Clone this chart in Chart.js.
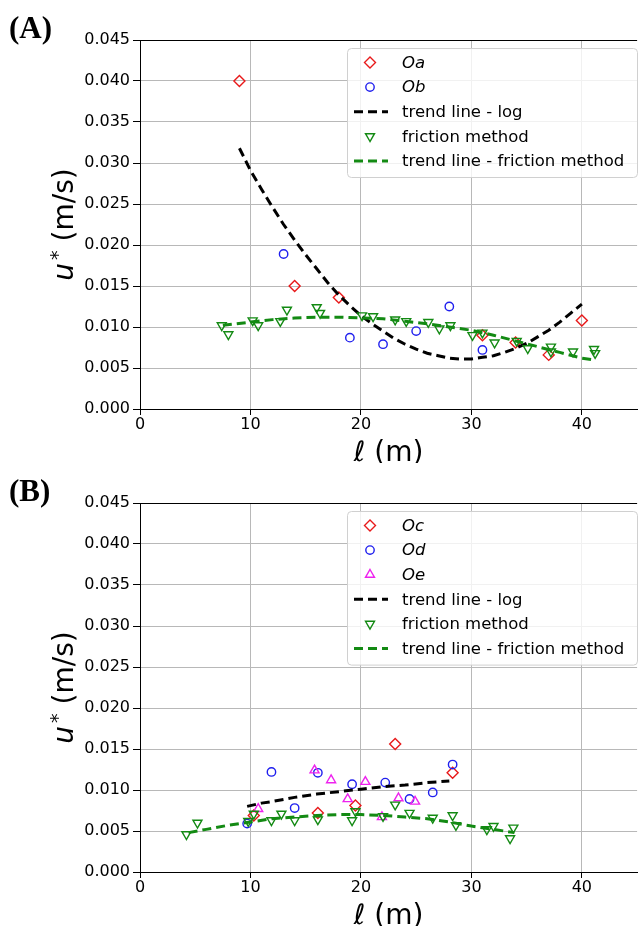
<!DOCTYPE html>
<html>
<head>
<meta charset="utf-8">
<script src="https://cdn.jsdelivr.net/npm/chart.js@4.4.0/dist/chart.umd.min.js"></script>
<style>
  body { margin: 0; background: #fff; }
  .panel { width: 644px; height: 463px; }
</style>
</head>
<body>
<div class="panel"><canvas id="chartA" width="644" height="463"></canvas></div>
<div class="panel"><canvas id="chartB" width="644" height="463"></canvas></div>
<script>
// Panel A
const oaX = [9, 14, 18, 31, 34, 37, 40];
const oaY = [0.0400, 0.0150, 0.0136, 0.0090, 0.0081, 0.0066, 0.0108];
const obX = [13, 19, 22, 25, 28, 31];
const obY = [0.0189, 0.0087, 0.0079, 0.0095, 0.0125, 0.0072];
const logTrendAX = [9, 10, 11, 12, 13, 14, 15, 16, 17, 18, 19, 20, 21, 22, 23, 24,
  25, 26, 27, 28, 29, 30, 31, 32, 33, 34, 35, 36, 37, 38, 39, 40];
const logTrendAY = [0.0318, 0.0291, 0.0268, 0.0246, 0.0225, 0.0206, 0.0188, 0.0171,
  0.0154, 0.0139, 0.0126, 0.0114, 0.0104, 0.0095, 0.0086, 0.0079,
  0.0073, 0.0068, 0.0065, 0.0062, 0.0061, 0.0061, 0.0063, 0.0065,
  0.0069, 0.0074, 0.0080, 0.0088, 0.0096, 0.0106, 0.0117, 0.0128];
const fricAX = [7.4, 8.0, 10.2, 10.7, 12.7, 13.3, 16.0, 16.3, 20.1, 21.1, 23.1, 24.1, 26.1,
  27.1, 28.1, 30.1, 31.0, 32.1, 34.1, 35.1, 37.2, 37.2, 39.2, 41.1, 41.2];
const fricAY = [0.0102, 0.0091, 0.0108, 0.0102, 0.0107, 0.0121, 0.0124, 0.0117, 0.0114, 0.0113,
  0.0109, 0.0107, 0.0106, 0.0098, 0.0102, 0.0090, 0.0093, 0.0081, 0.0083, 0.0074,
  0.0076, 0.0070, 0.0070, 0.0073, 0.0068];
const fricTrendAX = [7.5, 10, 12, 14, 16, 18, 20, 22, 24, 26, 28, 30, 32, 34, 36, 38, 40, 41];
const fricTrendAY = [0.0102, 0.0106, 0.0109, 0.0111, 0.0112, 0.0112, 0.0111, 0.0110, 0.0107,
  0.0104, 0.0100, 0.0096, 0.0090, 0.0083, 0.0076, 0.0069, 0.0062, 0.0060];

// Panel B
const ocX = [10.3, 16.1, 19.5, 23.1, 28.3];
const ocY = [0.0069, 0.0072, 0.0081, 0.0156, 0.0121];
const odX = [9.7, 11.9, 14.0, 16.1, 19.2, 22.2, 24.4, 26.5, 28.3];
const odY = [0.0059, 0.0122, 0.0078, 0.0121, 0.0107, 0.0109, 0.0089, 0.0097, 0.0131];
const oeX = [10.7, 15.8, 17.3, 18.8, 20.4, 21.9, 23.4, 24.9];
const oeY = [0.0077, 0.0124, 0.0112, 0.0089, 0.0110, 0.0067, 0.0090, 0.0086];
const logTrendBX = [9.7, 11, 12, 14, 16, 18, 20, 22, 24, 26, 28];
const logTrendBY = [0.0080, 0.0084, 0.0086, 0.0091, 0.0095, 0.0098, 0.0101, 0.0104, 0.0106, 0.0109, 0.0111];
const fricBX = [4.2, 5.2, 9.8, 10.3, 11.9, 12.8, 14.0, 16.1, 19.2, 19.5, 22.0, 23.1, 24.4,
  26.5, 28.3, 28.6, 31.4, 32.0, 33.5, 33.8];
const fricBY = [0.0046, 0.0060, 0.0062, 0.0071, 0.0063, 0.0071, 0.0063, 0.0064, 0.0063, 0.0074,
  0.0068, 0.0082, 0.0072, 0.0066, 0.0069, 0.0057, 0.0052, 0.0056, 0.0041, 0.0054];
const fricTrendBX = [4.4, 6, 8, 10, 12, 14, 16, 18, 20, 22, 24, 26, 28, 30, 32, 33.9];
const fricTrendBY = [0.0048, 0.0052, 0.0057, 0.0061, 0.0065, 0.0067, 0.0069, 0.0070, 0.0070,
  0.0069, 0.0067, 0.0065, 0.0061, 0.0056, 0.0052, 0.0048];

const xTicks = [0, 10, 20, 30, 40];

const RED = '#e8191a', BLUE = '#1f1fee', MAGENTA = '#ee22ee', GREEN = '#138a13';
const DASH = [9, 5];

function pts(xs, ys) { return xs.map((x, i) => ({ x: x, y: ys[i] })); }

function markers(label, xs, ys, color, style, radius, rotation, italic) {
  return {
    label: label, data: pts(xs, ys), italic: italic,
    pointStyle: style, pointRadius: radius, pointRotation: rotation || 0,
    pointBorderColor: color, pointBackgroundColor: 'rgba(0,0,0,0)',
    pointBorderWidth: 1.4, borderColor: color, showLine: false
  };
}

function trend(label, xs, ys, color) {
  return {
    label: label, data: pts(xs, ys), showLine: true, pointRadius: 0,
    borderColor: color, borderWidth: 3, borderDash: DASH, fill: false, tension: 0
  };
}

// draws legend, spine, titles and the panel letter
const decor = {
  id: 'decor',
  afterDraw(chart) {
    const ctx = chart.ctx, a = chart.chartArea;
    ctx.save();
    // top spine
    ctx.strokeStyle = '#000';
    ctx.lineWidth = 1;
    ctx.beginPath();
    ctx.moveTo(a.left, a.top + 0.5);
    ctx.lineTo(a.right, a.top + 0.5);
    ctx.stroke();

    // panel letter
    ctx.fillStyle = '#000';
    ctx.font = 'bold 31px "Liberation Serif"';
    ctx.textBaseline = 'alphabetic';
    ctx.textAlign = 'left';
    ctx.fillText(chart.options.panelLabel, 9, 38);

    // x title
    ctx.font = '28px "DejaVu Sans"';
    ctx.textAlign = 'center';
    ctx.fillText('\u2113 (m)', (a.left + a.right) / 2, 461);

    // y title, rotated
    ctx.save();
    ctx.translate(73, (a.top + a.bottom) / 2);
    ctx.rotate(-Math.PI / 2);
    ctx.textAlign = 'left';
    const fU = 'italic 28px "DejaVu Sans"', fS = '19px "DejaVu Sans"', fR = '28px "DejaVu Sans"';
    ctx.font = fU; const wU = ctx.measureText('u').width;
    ctx.font = fS; const wS = ctx.measureText('*').width;
    ctx.font = fR; const wR = ctx.measureText(' (m/s)').width;
    let x0 = -(wU + wS + wR + 3) / 2;
    ctx.font = fU; ctx.fillText('u', x0, 0); x0 += wU + 3;
    ctx.font = fS; ctx.fillText('*', x0, -9); x0 += wS;
    ctx.font = fR; ctx.fillText(' (m/s)', x0, 0);
    ctx.restore();

    // legend
    const ds = chart.data.datasets;
    const bx = 347, by = 48, bw = 290, rowH = 24.6;
    const bh = ds.length * rowH + 6;
    ctx.fillStyle = 'rgba(255,255,255,0.8)';
    ctx.strokeStyle = '#d0d0d0';
    ctx.lineWidth = 1;
    ctx.beginPath();
    ctx.roundRect(bx + 0.5, by + 0.5, bw, bh, 4);
    ctx.fill();
    ctx.stroke();
    ds.forEach((d, i) => {
      const y = by + 14.5 + i * rowH;
      if (d.showLine) {
        ctx.strokeStyle = d.borderColor;
        ctx.lineWidth = 3;
        ctx.setLineDash(DASH);
        ctx.beginPath();
        ctx.moveTo(354, y);
        ctx.lineTo(388, y);
        ctx.stroke();
        ctx.setLineDash([]);
      } else {
        ctx.strokeStyle = d.pointBorderColor;
        ctx.fillStyle = 'rgba(0,0,0,0)';
        ctx.lineWidth = 1.4;
        Chart.helpers.drawPoint(ctx, {
          pointStyle: d.pointStyle, rotation: d.pointRotation,
          radius: d.pointRadius, borderWidth: 1.4
        }, 370, y);
      }
      ctx.fillStyle = '#000';
      ctx.font = (d.italic ? 'italic ' : '') + '16.5px "DejaVu Sans"';
      ctx.textAlign = 'left';
      ctx.textBaseline = 'middle';
      ctx.fillText(d.label, 402, y + 1);
    });
    ctx.restore();
  }
};

function makeChart(id, panelLabel, datasets) {
  const n = datasets.length;
  datasets.forEach((d, i) => { d.order = n - i; });
  return new Chart(document.getElementById(id), {
    type: 'scatter',
    data: { datasets: datasets },
    options: {
      panelLabel: panelLabel,
      responsive: false,
      animation: false,
      layout: { padding: { top: 40, left: 0, right: 0, bottom: 0 } },
      plugins: { legend: { display: false }, tooltip: { enabled: false } },
      scales: {
        x: {
          type: 'linear', min: 0, max: 45,
          afterBuildTicks: s => { s.ticks = xTicks.map(v => ({ value: v })); },
          afterFit: s => { s.height = 54; },
          ticks: { font: { family: 'DejaVu Sans', size: 16 }, color: '#000', padding: 0, maxRotation: 0 },
          grid: { color: '#b8b8b8', lineWidth: 1, tickLength: 6, tickColor: '#000' },
          border: { color: '#000', width: 1 }
        },
        y: {
          min: 0, max: 0.045,
          afterFit: s => { s.width = 140; },
          ticks: {
            stepSize: 0.005, callback: v => v.toFixed(3),
            font: { family: 'DejaVu Sans', size: 16 }, color: '#000', padding: 3
          },
          grid: { color: '#b8b8b8', lineWidth: 1, tickLength: 7, tickColor: '#000' },
          border: { color: '#000', width: 1 }
        }
      }
    },
    plugins: [decor]
  });
}

makeChart('chartA', '(A)', [
  markers('Oa', oaX, oaY, RED, 'rectRot', 5.5, 0, true),
  markers('Ob', obX, obY, BLUE, 'circle', 4.2, 0, true),
  trend('trend line - log', logTrendAX, logTrendAY, '#000'),
  markers('friction method', fricAX, fricAY, GREEN, 'triangle', 5.2, 180, false),
  trend('trend line - friction method', fricTrendAX, fricTrendAY, GREEN)
]);

makeChart('chartB', '(B)', [
  markers('Oc', ocX, ocY, RED, 'rectRot', 5.5, 0, true),
  markers('Od', odX, odY, BLUE, 'circle', 4.2, 0, true),
  markers('Oe', oeX, oeY, MAGENTA, 'triangle', 5.2, 0, true),
  trend('trend line - log', logTrendBX, logTrendBY, '#000'),
  markers('friction method', fricBX, fricBY, GREEN, 'triangle', 5.2, 180, false),
  trend('trend line - friction method', fricTrendBX, fricTrendBY, GREEN)
]);
</script>
</body>
</html>
